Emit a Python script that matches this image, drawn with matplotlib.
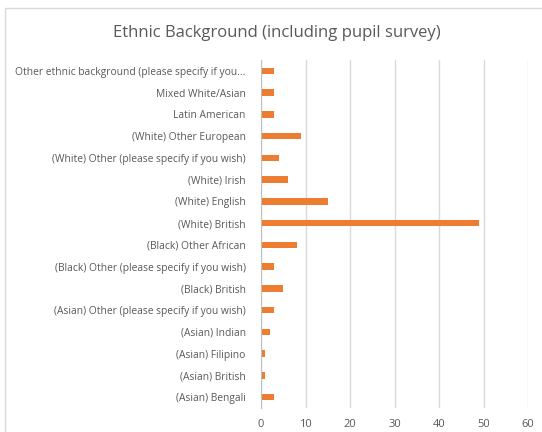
import matplotlib
matplotlib.use("Agg")
import matplotlib.pyplot as plt
from matplotlib.patches import Rectangle

# categories listed bottom to top, as drawn
categories = [
    "(Asian) Bengali",
    "(Asian) British",
    "(Asian) Filipino",
    "(Asian) Indian",
    "(Asian) Other (please specify if you wish)",
    "(Black) British",
    "(Black) Other (please specify if you wish)",
    "(Black) Other African",
    "(White) British",
    "(White) English",
    "(White) Irish",
    "(White) Other (please specify if you wish)",
    "(White) Other European",
    "Latin American",
    "Mixed White/Asian",
    "Other ethnic background (please specify if you...",
]
counts = [3, 1, 1, 2, 3, 5, 3, 8, 49, 15, 6, 4, 9, 3, 3, 3]
x_ticks = [0, 10, 20, 30, 40, 50, 60]

text_grey = "#595959"
bar_orange = "#ED7D31"

plt.rcParams['font.family'] = ['Open Sans', 'DejaVu Sans']

fig = plt.figure(figsize=(5.42, 4.32), dpi=100)
# chart frame (cropped on the right and bottom)
fig.patches.append(Rectangle((5 / 542, -0.1), 1.2, 1 - 8 / 432 + 0.1,
                             transform=fig.transFigure, fill=False,
                             edgecolor="#D9D9D9", linewidth=1))

ax = fig.add_axes([261 / 542, 1 - 408 / 432, (528 - 261) / 542, (408 - 60) / 432])
ax.barh(range(len(categories)), counts, height=0.3, color=bar_orange)

ax.set_xlim(0, 60)
ax.set_ylim(-0.5, len(categories) - 0.5)
ax.set_xticks(x_ticks)
ax.set_yticks(range(len(categories)))
ax.set_yticklabels(categories)
ax.tick_params(axis="both", length=0, colors=text_grey)
ax.tick_params(axis="y", pad=11, labelsize=7.4)
ax.tick_params(axis="x", pad=8, labelsize=8)

ax.grid(axis="x", color="#D9D9D9", linewidth=1)
ax.set_axisbelow(True)
for side in ["top", "right", "bottom"]:
    ax.spines[side].set_visible(False)
ax.spines["left"].set_color("#BFBFBF")

fig.text(0.51, 1 - 33 / 432, "Ethnic Background (including pupil survey)",
         ha="center", va="center", fontsize=12, color=text_grey)

fig.savefig("out.png", dpi=100)
